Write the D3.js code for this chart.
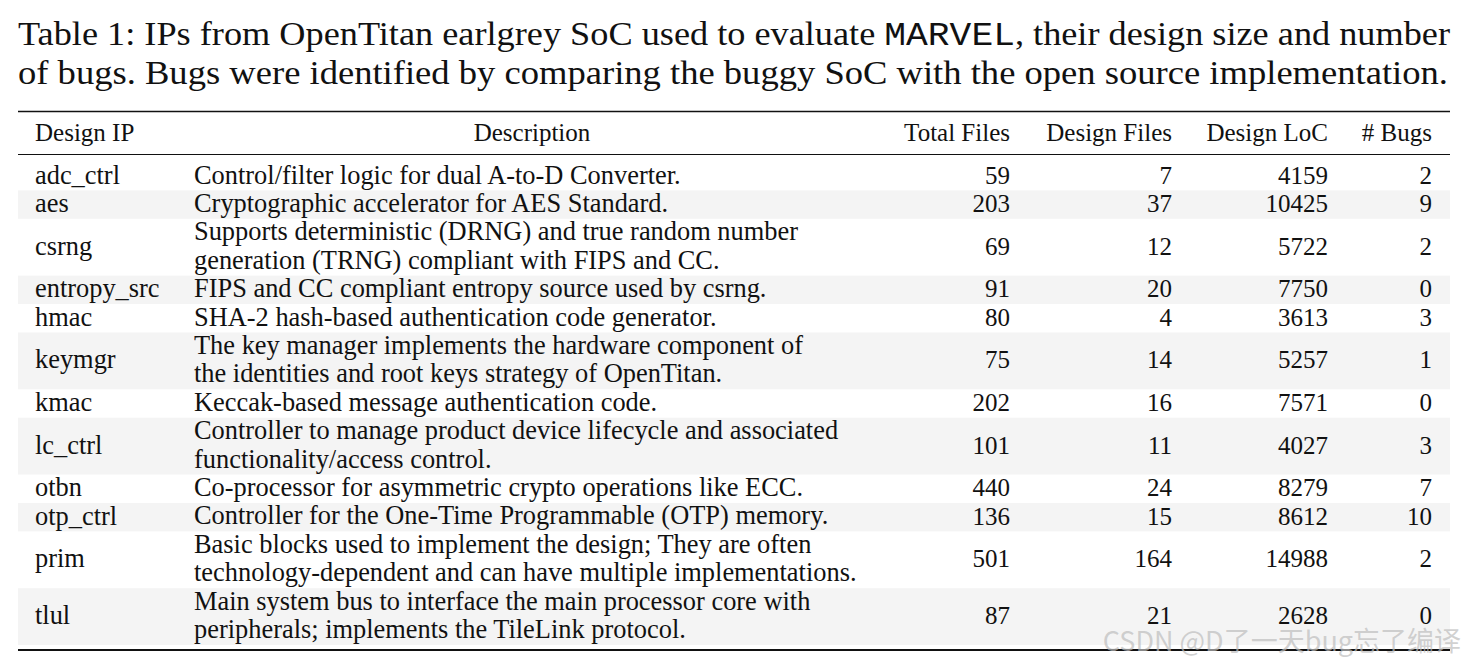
<!DOCTYPE html>
<html>
<head>
<meta charset="utf-8">
<script src="https://cdn.jsdelivr.net/npm/d3@7"></script>
<style>
  body { margin: 0; background: #fff; }
  text { font-family: "Liberation Serif", serif; fill: #111; }
  .cap { font-size: 33px; }
  .hdr, .num { font-size: 25px; }
  .cell { font-size: 26.4px; }
  .mono { font-family: "Liberation Mono", "DejaVu Sans Mono", monospace; }
  .wm { font-family: "Noto Sans CJK SC", sans-serif; font-size: 27px; fill: #bdbdbd; fill-opacity: 0.7; }
</style>
</head>
<body>
<div class="container"></div>
<script>
const W = 1465, H = 670;

// table data
const headers = ["Design IP", "Description", "Total Files", "Design Files", "Design LoC", "# Bugs"];
const ips = ["adc_ctrl", "aes", "csrng", "entropy_src", "hmac", "keymgr", "kmac", "lc_ctrl", "otbn", "otp_ctrl", "prim", "tlul"];
const descriptions = [
  ["Control/filter logic for dual A-to-D Converter."],
  ["Cryptographic accelerator for AES Standard."],
  ["Supports deterministic (DRNG) and true random number", "generation (TRNG) compliant with FIPS and CC."],
  ["FIPS and CC compliant entropy source used by csrng."],
  ["SHA-2 hash-based authentication code generator."],
  ["The key manager implements the hardware component of", "the identities and root keys strategy of OpenTitan."],
  ["Keccak-based message authentication code."],
  ["Controller to manage product device lifecycle and associated", "functionality/access control."],
  ["Co-processor for asymmetric crypto operations like ECC."],
  ["Controller for the One-Time Programmable (OTP) memory."],
  ["Basic blocks used to implement the design; They are often", "technology-dependent and can have multiple implementations."],
  ["Main system bus to interface the main processor core with", "peripherals; implements the TileLink protocol."]
];
const totalFiles = [59, 203, 69, 91, 80, 75, 202, 101, 440, 136, 501, 87];
const designFiles = [7, 37, 12, 20, 4, 14, 16, 11, 24, 15, 164, 21];
const designLoc = [4159, 10425, 5722, 7750, 3613, 5257, 7571, 4027, 8279, 8612, 14988, 2628];
const bugs = [2, 9, 2, 0, 3, 1, 0, 3, 7, 10, 2, 0];

const svg = d3.select(".container")
  .append("svg")
    .attr("width", W)
    .attr("height", H);

// caption, two justified lines
const cap1 = svg.append("text").classed("cap", true)
  .attr("x", 18).attr("y", 45)
  .attr("textLength", 1432).attr("lengthAdjust", "spacingAndGlyphs");
cap1.append("tspan").text("Table 1: IPs from OpenTitan earlgrey SoC used to evaluate ");
cap1.append("tspan").classed("mono", true).text("MARVEL");
cap1.append("tspan").text(", their design size and number");

svg.append("text").classed("cap", true)
  .attr("x", 18).attr("y", 84)
  .attr("textLength", 1430).attr("lengthAdjust", "spacingAndGlyphs")
  .text("of bugs. Bugs were identified by comparing the buggy SoC with the open source implementation.");

// rows: build line offsets
let acc = 0;
const rows = ips.map((ip, i) => {
  const r = {ip: ip, lines: descriptions[i], start: acc, n: descriptions[i].length,
             vals: [totalFiles[i], designFiles[i], designLoc[i], bugs[i]]};
  acc += r.n;
  return r;
});

const y = d3.scaleLinear().domain([0, acc]).range([162, 645]);
const colX = d3.scaleOrdinal().domain(headers).range([35, 194, 1010, 1172, 1328, 1432]);
const left = 18, right = 1450;

// stripes
svg.selectAll(".stripe")
  .data(rows.filter((d, i) => i % 2 == 1))
  .enter()
  .append("rect")
    .attr("x", left)
    .attr("y", d => y(d.start))
    .attr("width", right - left)
    .attr("height", d => y(d.start + d.n) - y(d.start))
    .attr("fill", "#f4f4f4");

// rules
svg.append("line").attr("x1", left).attr("x2", right).attr("y1", 111.5).attr("y2", 111.5)
  .attr("stroke", "#111").attr("stroke-width", 1.6);
svg.append("line").attr("x1", left).attr("x2", right).attr("y1", 154.5).attr("y2", 154.5)
  .attr("stroke", "#111").attr("stroke-width", 1);
svg.append("line").attr("x1", left).attr("x2", right).attr("y1", 650).attr("y2", 650)
  .attr("stroke", "#111").attr("stroke-width", 2);

// header
svg.selectAll(".hdr")
  .data(headers)
  .enter()
  .append("text")
    .classed("hdr", true)
    .attr("x", (d, i) => i == 1 ? 532 : colX(d))
    .attr("y", 141)
    .attr("text-anchor", (d, i) => i == 0 ? "start" : (i == 1 ? "middle" : "end"))
    .text(d => d);

const mid = d => (y(d.start) + y(d.start + d.n)) / 2 + 7.5;

const g = svg.selectAll(".row")
  .data(rows)
  .enter()
  .append("g")
    .classed("row", true);

g.append("text").classed("cell", true)
  .attr("x", colX("Design IP"))
  .attr("y", mid)
  .text(d => d.ip);

g.selectAll(".desc")
  .data(d => d.lines.map((t, k) => ({t: t, start: d.start + k})))
  .enter()
  .append("text")
    .classed("cell desc", true)
    .attr("x", colX("Description"))
    .attr("y", d => y(d.start) + 21.5)
    .text(d => d.t);

headers.slice(2).forEach((h, k) => {
  g.append("text").classed("num", true)
    .attr("x", colX(h))
    .attr("y", mid)
    .attr("text-anchor", "end")
    .text(d => d.vals[k]);
});

// watermark
svg.append("text").classed("wm", true)
  .attr("x", 1461).attr("y", 651)
  .attr("text-anchor", "end")
  .text("CSDN @D了一天bug忘了编译");
</script>
</body>
</html>
